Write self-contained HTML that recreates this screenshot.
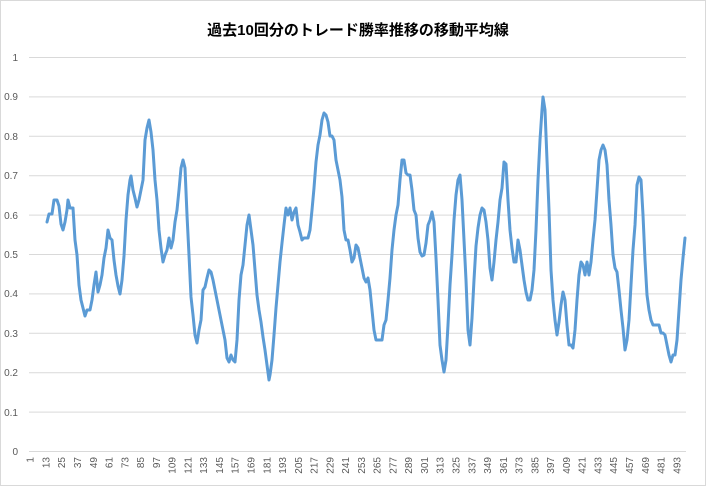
<!DOCTYPE html>
<html><head><meta charset="utf-8"><style>
html,body{margin:0;padding:0;background:#fff}
svg{display:block}
text{font-family:"Liberation Sans","Noto Sans CJK JP",sans-serif}
</style></head><body>
<svg width="706" height="486" viewBox="0 0 706 486" xmlns="http://www.w3.org/2000/svg">
<rect x="0.5" y="0.5" width="705" height="485" fill="#fff" stroke="#d9d9d9"/>
<text x="358" y="35" text-anchor="middle" font-size="15" font-weight="bold" fill="#000">過去10回分のトレード勝率推移の移動平均線</text>
<g stroke="#d9d9d9" stroke-width="1">
<line x1="29" x2="686" y1="57.5" y2="57.5"/><line x1="29" x2="686" y1="96.9" y2="96.9"/><line x1="29" x2="686" y1="136.3" y2="136.3"/><line x1="29" x2="686" y1="175.7" y2="175.7"/><line x1="29" x2="686" y1="215.1" y2="215.1"/><line x1="29" x2="686" y1="254.5" y2="254.5"/><line x1="29" x2="686" y1="293.9" y2="293.9"/><line x1="29" x2="686" y1="333.3" y2="333.3"/><line x1="29" x2="686" y1="372.7" y2="372.7"/><line x1="29" x2="686" y1="412.1" y2="412.1"/><line x1="29" x2="686" y1="451.5" y2="451.5"/>
</g>
<g font-size="10" fill="#595959" text-anchor="end">
<text x="18" y="61">1</text><text x="18" y="100">0.9</text><text x="18" y="140">0.8</text><text x="18" y="179">0.7</text><text x="18" y="219">0.6</text><text x="18" y="258">0.5</text><text x="18" y="297">0.4</text><text x="18" y="337">0.3</text><text x="18" y="376">0.2</text><text x="18" y="416">0.1</text><text x="18" y="455">0</text>
</g>
<g font-size="10" fill="#595959" text-anchor="end">
<text transform="translate(33.7,457) rotate(-90)">1</text>
<text transform="translate(49.4,457) rotate(-90)">13</text>
<text transform="translate(65.2,457) rotate(-90)">25</text>
<text transform="translate(81,457) rotate(-90)">37</text>
<text transform="translate(96.8,457) rotate(-90)">49</text>
<text transform="translate(112.5,457) rotate(-90)">61</text>
<text transform="translate(128.3,457) rotate(-90)">73</text>
<text transform="translate(144.1,457) rotate(-90)">85</text>
<text transform="translate(159.9,457) rotate(-90)">97</text>
<text transform="translate(175.6,457) rotate(-90)">109</text>
<text transform="translate(191.4,457) rotate(-90)">121</text>
<text transform="translate(207.2,457) rotate(-90)">133</text>
<text transform="translate(222.9,457) rotate(-90)">145</text>
<text transform="translate(238.7,457) rotate(-90)">157</text>
<text transform="translate(254.5,457) rotate(-90)">169</text>
<text transform="translate(270.3,457) rotate(-90)">181</text>
<text transform="translate(286,457) rotate(-90)">193</text>
<text transform="translate(301.8,457) rotate(-90)">205</text>
<text transform="translate(317.6,457) rotate(-90)">217</text>
<text transform="translate(333.3,457) rotate(-90)">229</text>
<text transform="translate(349.1,457) rotate(-90)">241</text>
<text transform="translate(364.9,457) rotate(-90)">253</text>
<text transform="translate(380.6,457) rotate(-90)">265</text>
<text transform="translate(396.4,457) rotate(-90)">277</text>
<text transform="translate(412.2,457) rotate(-90)">289</text>
<text transform="translate(428,457) rotate(-90)">301</text>
<text transform="translate(443.7,457) rotate(-90)">313</text>
<text transform="translate(459.5,457) rotate(-90)">325</text>
<text transform="translate(475.3,457) rotate(-90)">337</text>
<text transform="translate(491.1,457) rotate(-90)">349</text>
<text transform="translate(506.8,457) rotate(-90)">361</text>
<text transform="translate(522.6,457) rotate(-90)">373</text>
<text transform="translate(538.4,457) rotate(-90)">385</text>
<text transform="translate(554.1,457) rotate(-90)">397</text>
<text transform="translate(569.9,457) rotate(-90)">409</text>
<text transform="translate(585.7,457) rotate(-90)">421</text>
<text transform="translate(601.5,457) rotate(-90)">433</text>
<text transform="translate(617.2,457) rotate(-90)">445</text>
<text transform="translate(633,457) rotate(-90)">457</text>
<text transform="translate(648.8,457) rotate(-90)">469</text>
<text transform="translate(664.5,457) rotate(-90)">481</text>
<text transform="translate(680.3,457) rotate(-90)">493</text>
</g>
<polyline fill="none" stroke="#5B9BD5" stroke-width="3" stroke-linejoin="round" stroke-linecap="round" points="47,222 49,214 52,214 54,200 57,200 59,206 61,224 63,230 65,222 67,210 68,200 70,208 73,208 75,240 77,255 79,285 81,300 83,308 85,316 87,310 90,310 92,300 94,285 96,272 98,292 100,285 102,275 104,258 106,248 108,230 110,238 112,240 114,260 116,275 118,286 120,294 122,280 124,256 126,220 128,195 130,180 131,176 133,190 135,198 137,207 139,200 141,190 143,180 145,140 147,128 149,120 151,132 153,150 155,180 157,200 159,230 161,248 163,262 165,255 167,250 169,238 171,248 173,240 175,222 177,210 179,190 181,168 183,160 185,168 187,215 189,255 191,297 193,315 195,335 197,343 199,330 201,320 203,290 205,287 207,278 209,270 211,272 213,280 215,290 217,300 219,310 221,320 223,330 225,340 227,358 229,362 231,355 233,360 235,362 237,340 239,300 241,275 243,265 245,245 247,225 249,215 251,230 253,245 255,270 257,295 259,310 261,322 263,337 265,350 267,365 269,380 270,375 272,360 274,335 276,308 278,285 280,262 282,243 284,225 286,208 288,215 290,208 292,220 294,212 296,208 298,225 300,232 302,240 304,238 306,238 308,238 310,230 312,210 314,188 316,162 318,145 320,135 322,120 324,113 326,115 328,122 330,136 332,136 334,140 336,160 338,170 340,180 342,197 344,230 346,240 348,240 350,250 352,262 354,258 356,245 358,248 360,258 362,268 364,278 366,282 368,278 370,290 372,310 374,330 376,340 378,340 380,340 382,340 384,325 386,320 388,300 390,278 392,250 394,230 396,215 398,205 400,180 402,160 404,160 406,173 408,175 410,175 412,190 414,210 416,215 418,238 420,252 422,256 424,255 426,243 428,225 430,220 432,212 434,222 436,258 438,300 440,345 442,360 444,372 446,360 448,325 450,285 452,255 454,220 456,195 458,180 460,175 462,200 464,240 466,280 468,330 470,345 472,318 474,280 476,246 478,228 480,215 482,208 484,210 486,222 488,240 490,268 492,280 494,262 496,240 498,222 500,200 502,188 504,162 506,164 508,200 510,230 512,248 514,262 516,262 518,240 520,250 522,265 524,280 526,292 528,300 530,300 532,290 534,270 536,230 538,180 540,140 542,110 543,97 545,110 547,160 549,210 551,270 553,300 555,320 557,335 559,322 561,305 563,292 565,300 567,325 569,345 571,345 573,348 575,330 577,300 579,275 581,262 583,265 585,275 587,262 589,275 591,262 593,240 595,220 597,190 599,160 601,150 603,145 605,150 607,165 609,200 611,225 613,255 615,268 617,272 619,290 621,310 623,328 625,350 627,340 629,320 631,285 633,250 635,225 637,185 639,177 641,180 643,215 645,260 647,295 649,310 651,320 653,325 655,325 657,325 659,325 661,333 663,333 665,335 667,345 669,355 671,362 673,355 675,355 677,340 679,310 681,280 683,258 685,238"/>
</svg>
</body></html>
